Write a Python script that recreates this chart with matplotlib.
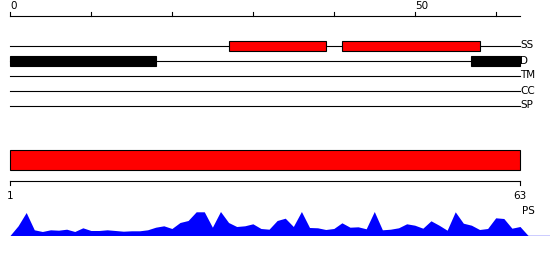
import numpy as np
import matplotlib
matplotlib.use("Agg")
import matplotlib.pyplot as plt
from matplotlib.patches import Rectangle

# sequence length and track layout
seq_len = 63
tracks = ["SS", "D", "TM", "CC", "SP"]

# features: (track, start, end, colour)
feat_track = ["SS", "SS", "D", "D"]
feat_start = [27, 41, 0, 57]
feat_end = [39, 58, 18, 63]
feat_color = ["red", "red", "black", "black"]

# top ruler
ruler_ticks = [0, 10, 20, 30, 40, 50, 60]
ruler_labels = {0: "0", 50: "50"}

# bottom ruler labels
bottom_ticks = [0, 63]
bottom_labels = ["1", "63"]

# PS profile per residue
ps_values = [9.7, 23, 5.7, 4, 5.7, 5.3, 6.3, 4, 7.7, 5,
             5, 5.7, 5, 4.3, 4.7, 4.7, 5.7, 8.3, 9.7, 7,
             13, 15, 23.7, 23.7, 8.3, 24, 13, 9, 9.7, 11.7,
             7, 6.3, 15, 17.3, 9, 24, 8, 7.7, 6, 7,
             12.7, 8.3, 8.7, 6.7, 24, 5.7, 6.3, 7.7, 11.7, 10.3,
             7.3, 14.7, 10.3, 5.3, 23.7, 12.3, 10.3, 6, 7, 17.7,
             17, 7.3, 9]

W, H = 550, 260
px_per_unit = 510 / seq_len
xlim = (-10 / px_per_unit, (W - 10) / px_per_unit)

fig = plt.figure(figsize=(W / 100, H / 100), dpi=100)
ax = fig.add_axes([0, 0, 1, 1])
ax.set_xlim(*xlim)
ax.set_ylim(H, 0)
ax.axis("off")

fs = 7.5
lw = 0.8

# top ruler
ax.plot([0, seq_len], [15.5, 15.5], color="black", lw=lw)
for t in ruler_ticks:
    ax.plot([t, t], [15.5, 11.5], color="black", lw=lw)
    if t in ruler_labels:
        ax.text(t, 11, ruler_labels[t], fontsize=fs, ha="left", va="bottom")

# tracks
row_y = {name: 45.5 + 15 * i for i, name in enumerate(tracks)}
for name in tracks:
    y = row_y[name]
    ax.plot([0, seq_len], [y, y], color="black", lw=lw)
    ax.text(seq_len + 0.05, y, name, fontsize=fs, ha="left", va="center")

for tr, s, e, c in zip(feat_track, feat_start, feat_end, feat_color):
    y = row_y[tr]
    ax.add_patch(Rectangle((s, y - 5), e - s, 10, facecolor=c,
                           edgecolor="black", lw=lw, zorder=3))

# full-length bar
ax.add_patch(Rectangle((0, 150), seq_len, 20, facecolor="red",
                       edgecolor="black", lw=lw, zorder=3))

# bottom ruler
ax.plot([0, seq_len], [180.5, 180.5], color="black", lw=lw)
for t, lab in zip(bottom_ticks, bottom_labels):
    ax.plot([t, t], [180.5, 185], color="black", lw=lw)
    ax.text(t, 196, lab, fontsize=fs, ha="center", va="center")
ax.text(seq_len + 0.2, 211, "PS", fontsize=fs, ha="left", va="center")

# PS area profile
ax2 = fig.add_axes([0, 24.5 / H, 1, 24 / H])
ax2.set_xlim(*xlim)
ax2.set_ylim(0, 24)
ax2.axis("off")
xs = np.arange(len(ps_values) + 2)
ys = np.concatenate([[0], ps_values, [0]])
ax2.fill_between(xs, 0, ys, color="blue", lw=0)
ax2.plot([xs[-1], xlim[1]], [0, 0], color="blue", lw=1)

fig.savefig("out.png", dpi=100)
